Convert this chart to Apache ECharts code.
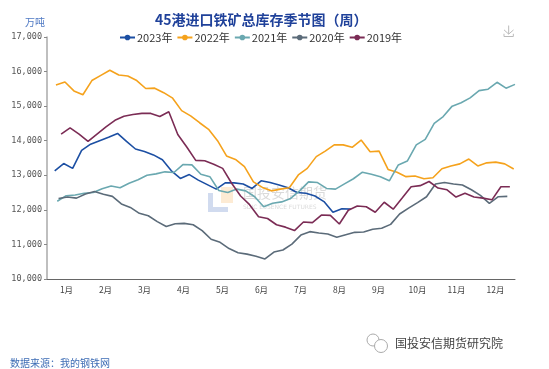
<!DOCTYPE html>
<html><head><meta charset="utf-8">
<script src="https://cdn.jsdelivr.net/npm/echarts@6/dist/echarts.min.js"></script>
<style>html,body{margin:0;padding:0;background:#fff}#c{width:549px;height:369px}</style>
</head><body><div id="c"></div>
<script>
// Month labels of the category axis
const months = ['1月','2月','3月','4月','5月','6月','7月','8月','9月','10月','11月','12月'];
// Series names
const years = ['2023年','2022年','2021年','2020年','2019年'];
// Day-of-year of the first weekly reading of each year (weekly, every 7 days)
const startDay2023 = 6, startDay2022 = 7, startDay2021 = 8, startDay2020 = 9, startDay2019 = 11;
// Weekly inventory, 万吨
const v2023 = [13130,13340,13200,13720,13900,14000,14100,14210,13980,13760,13690,13590,13450,13130,12910,13020,12860,12730,12600,12780,12780,12750,12620,12840,12790,12720,12640,12500,12480,12400,12240,11930,12030,12020];
const v2022 = [15610,15700,15440,15330,15740,15890,16040,15900,15870,15740,15510,15520,15390,15230,14870,14720,14520,14330,14000,13560,13460,13250,12810,12650,12550,12600,12640,13010,13200,13540,13700,13880,13880,13810,14020,13680,13700,13170,13090,12960,12980,12900,12930,13190,13270,13330,13470,13270,13360,13380,13330,13180];
const v2021 = [12250,12410,12430,12480,12500,12610,12690,12640,12770,12870,13000,13040,13100,13080,13310,13300,13030,12960,12560,12500,12600,12550,12380,12090,12190,12230,12330,12550,12810,12790,12620,12600,12750,12900,13090,13030,12960,12840,13300,13410,13880,14040,14500,14700,15000,15100,15240,15450,15490,15690,15520,15630];
const v2020 = [12330,12370,12340,12460,12530,12450,12390,12170,12070,11900,11830,11660,11520,11600,11610,11570,11400,11150,11060,10880,10760,10720,10660,10580,10780,10840,11010,11270,11370,11330,11300,11210,11280,11350,11360,11440,11470,11580,11880,12050,12210,12380,12750,12790,12750,12720,12580,12420,12190,12380,12390];
const v2019 = [14190,14370,14190,13980,14190,14400,14590,14710,14760,14790,14790,14700,14840,14180,13820,13430,13420,13320,13200,12770,12400,12150,11800,11750,11570,11500,11400,11650,11630,11850,11840,11590,11990,12110,12090,11930,12220,12020,12340,12670,12700,12820,12630,12580,12370,12480,12370,12340,12290,12670,12670];

const colors = ['#1c4fa3','#f5a21c','#6aa8b0','#5b6b79','#7b2c55'];
const starts = [startDay2023,startDay2022,startDay2021,startDay2020,startDay2019];
const values = [v2023,v2022,v2021,v2020,v2019];
const weekly = (start, vals) => vals.map((v,i)=>[start + 7*i, v]);

const chart = echarts.init(document.getElementById('c'));
const CJK = 'Noto Sans CJK SC';
chart.setOption({
  animation:false,
  color: colors,
  title:{ text:'45港进口铁矿总库存季节图（周）', left:150, top:8,
    textStyle:{fontSize:14, fontWeight:'bold', color:'#1f419a', fontFamily:CJK} },
  toolbox:{ right:18, top:8, itemSize:11, feature:{ saveAsImage:{ iconStyle:{borderColor:'#bbb'} } } },
  legend:{ top:27, left:114, itemWidth:15, itemHeight:7, itemGap:4, data:years,
    textStyle:{fontSize:11, color:'#333', fontFamily:CJK, padding:[0,0,0,-3]} },
  grid:{ left:47, right:34, top:37, bottom:90 },
  xAxis:[
    { type:'category', data:months, boundaryGap:true,
      axisLine:{lineStyle:{color:'#666'}}, axisTick:{length:3, lineStyle:{color:'#666'}},
      axisLabel:{fontSize:8.5, color:'#444', margin:7, fontFamily:CJK}, splitLine:{show:false} },
    { type:'value', min:0, max:365, show:false }
  ],
  yAxis:{ type:'value', min:10000, max:17000, interval:1000,
    name:'万吨', nameLocation:'end', nameGap:10,
    nameTextStyle:{color:'#4f79c4', fontSize:10, fontFamily:CJK, align:'right', padding:[0,2,0,0]},
    axisLine:{show:true, lineStyle:{color:'#aaa', width:1.5}},
    axisTick:{show:true, length:3, lineStyle:{color:'#888'}},
    splitLine:{show:false},
    axisLabel:{fontFamily:'DejaVu Sans Mono', fontSize:8.5, color:'#555', margin:5,
      formatter:v=>v.toLocaleString('en-US')} },
  graphic:[
    {type:'rect', z:0, shape:{x:221,y:187,width:12,height:16}, style:{fill:'rgba(245,165,60,0.22)'}},
    {type:'rect', z:0, shape:{x:208,y:193,width:5,height:19}, style:{fill:'rgba(70,110,190,0.25)'}},
    {type:'rect', z:0, shape:{x:213,y:207,width:15,height:5}, style:{fill:'rgba(70,110,190,0.25)'}},
    {type:'text', z:0, left:243, top:186, style:{text:'国投安信期货', font:'14px "Noto Sans CJK SC"', fill:'rgba(150,150,150,0.35)'}},
    {type:'text', z:0, left:243, top:204, style:{text:'SDIC ESSENCE FUTURES', font:'6px "DejaVu Sans"', fill:'rgba(150,150,150,0.35)'}},
    {type:'circle', shape:{cx:373,cy:340,r:6}, style:{fill:'none', stroke:'#aaa', lineWidth:1}},
    {type:'circle', shape:{cx:381,cy:346,r:6.5}, style:{fill:'#fff', stroke:'#aaa', lineWidth:1}},
    {type:'text', left:395, top:337, style:{text:'国投安信期货研究院', font:'12px "Noto Sans CJK SC"', fill:'#444'}},
    {type:'text', left:10, top:358, style:{text:'数据来源：我的钢铁网', font:'10px "Noto Sans CJK SC"', fill:'#3e6db5'}}
  ],
  series: years.map((name,k)=>({
    name, type:'line', xAxisIndex:1, data:weekly(starts[k], values[k]),
    symbol:'circle', symbolSize:6, showSymbol:false, z:3,
    lineStyle:{width:1.6, color:colors[k]}, itemStyle:{color:colors[k]}
  }))
});
</script></body></html>
